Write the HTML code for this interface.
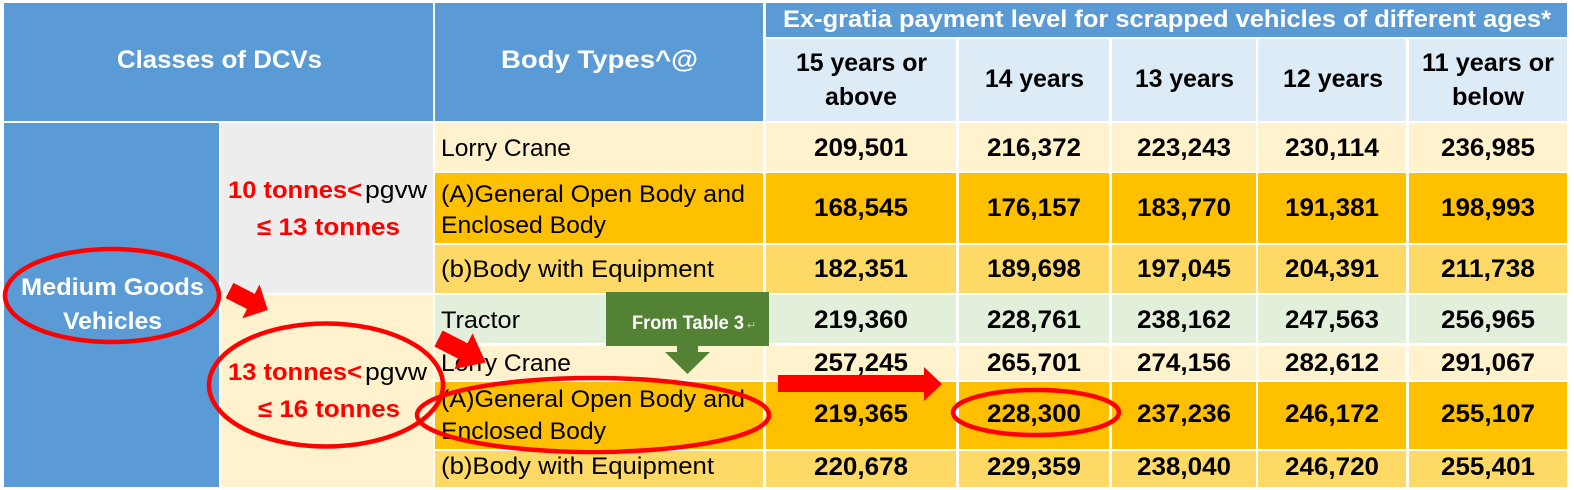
<!DOCTYPE html>
<html>
<head>
<meta charset="utf-8">
<style>
html,body{margin:0;padding:0;background:#fff;}
svg{display:block;}
text{font-family:"Liberation Sans",Arial,sans-serif;}
.h{fill:#fff;font-weight:bold;}
.sh{fill:#000;font-weight:bold;font-size:25px;}
.n{fill:#000;font-weight:bold;font-size:25px;}
.b{fill:#000;font-size:24px;}
.r{fill:#ff0000;font-weight:bold;font-size:24px;}
.k{fill:#000;font-size:24px;}
</style>
</head>
<body>
<svg width="1574" height="490" viewBox="0 0 1574 490" xmlns="http://www.w3.org/2000/svg">
<rect x="0" y="0" width="1574" height="490" fill="#fff"/>
<!-- headers -->
<rect x="4" y="3" width="429" height="118" fill="#5B9BD5"/>
<rect x="435" y="3" width="328" height="118" fill="#5B9BD5"/>
<rect x="766" y="3" width="801" height="34" fill="#5B9BD5"/>
<g fill="#DDEBF7">
<rect x="766" y="39" width="190" height="82"/>
<rect x="959" y="39" width="150" height="82"/>
<rect x="1112" y="39" width="144" height="82"/>
<rect x="1258" y="39" width="148" height="82"/>
<rect x="1409" y="39" width="158" height="82"/>
</g>
<!-- left columns -->
<rect x="4" y="123" width="215" height="364" fill="#5B9BD5"/>
<rect x="221" y="123" width="212" height="170" fill="#EDEDED"/>
<rect x="221" y="295" width="212" height="192" fill="#FFF2CC"/>
<!-- rows -->
<g fill="#FFF2CC">
<rect x="435" y="123" width="328" height="48"/><rect x="766" y="123" width="190" height="48"/><rect x="959" y="123" width="150" height="48"/><rect x="1112" y="123" width="144" height="48"/><rect x="1258" y="123" width="148" height="48"/><rect x="1409" y="123" width="158" height="48"/>
<rect x="435" y="346" width="328" height="34"/><rect x="766" y="346" width="190" height="34"/><rect x="959" y="346" width="150" height="34"/><rect x="1112" y="346" width="144" height="34"/><rect x="1258" y="346" width="148" height="34"/><rect x="1409" y="346" width="158" height="34"/>
</g>
<g fill="#FFC000">
<rect x="435" y="173" width="328" height="70"/><rect x="766" y="173" width="190" height="70"/><rect x="959" y="173" width="150" height="70"/><rect x="1112" y="173" width="144" height="70"/><rect x="1258" y="173" width="148" height="70"/><rect x="1409" y="173" width="158" height="70"/>
<rect x="435" y="382" width="328" height="67"/><rect x="766" y="382" width="190" height="67"/><rect x="959" y="382" width="150" height="67"/><rect x="1112" y="382" width="144" height="67"/><rect x="1258" y="382" width="148" height="67"/><rect x="1409" y="382" width="158" height="67"/>
</g>
<g fill="#FFD966">
<rect x="435" y="245" width="328" height="48"/><rect x="766" y="245" width="190" height="48"/><rect x="959" y="245" width="150" height="48"/><rect x="1112" y="245" width="144" height="48"/><rect x="1258" y="245" width="148" height="48"/><rect x="1409" y="245" width="158" height="48"/>
<rect x="435" y="451" width="328" height="36"/><rect x="766" y="451" width="190" height="36"/><rect x="959" y="451" width="150" height="36"/><rect x="1112" y="451" width="144" height="36"/><rect x="1258" y="451" width="148" height="36"/><rect x="1409" y="451" width="158" height="36"/>
</g>
<g fill="#E2EFDA">
<rect x="435" y="295" width="328" height="48"/><rect x="766" y="295" width="190" height="48"/><rect x="959" y="295" width="150" height="48"/><rect x="1112" y="295" width="144" height="48"/><rect x="1258" y="295" width="148" height="48"/><rect x="1409" y="295" width="158" height="48"/>
</g>

<!-- header text -->
<text class="h" x="117" y="68" font-size="25" textLength="205" lengthAdjust="spacingAndGlyphs">Classes of DCVs</text>
<text class="h" x="501" y="68" font-size="25" textLength="197" lengthAdjust="spacingAndGlyphs">Body Types^@</text>
<text class="h" x="783" y="27" font-size="24" textLength="768" lengthAdjust="spacingAndGlyphs">Ex-gratia payment level for scrapped vehicles of different ages*</text>

<text class="sh" x="796" y="71" textLength="131" lengthAdjust="spacingAndGlyphs">15 years or</text>
<text class="sh" x="825" y="105" textLength="72" lengthAdjust="spacingAndGlyphs">above</text>
<text class="sh" x="985" y="87" textLength="99" lengthAdjust="spacingAndGlyphs">14 years</text>
<text class="sh" x="1135" y="87" textLength="99" lengthAdjust="spacingAndGlyphs">13 years</text>
<text class="sh" x="1283" y="87" textLength="100" lengthAdjust="spacingAndGlyphs">12 years</text>
<text class="sh" x="1422" y="71" textLength="132" lengthAdjust="spacingAndGlyphs">11 years or</text>
<text class="sh" x="1452" y="105" textLength="72" lengthAdjust="spacingAndGlyphs">below</text>

<!-- left column text -->
<text class="h" x="21" y="295" font-size="24" textLength="183" lengthAdjust="spacingAndGlyphs">Medium Goods</text>
<text class="h" x="63" y="329" font-size="24" textLength="99" lengthAdjust="spacingAndGlyphs">Vehicles</text>

<text class="r" x="228" y="198" textLength="134" lengthAdjust="spacingAndGlyphs">10 tonnes&lt;</text>
<text class="k" x="365" y="198" textLength="62" lengthAdjust="spacingAndGlyphs">pgvw</text>
<text class="r" x="257" y="235" textLength="143" lengthAdjust="spacingAndGlyphs">≤ 13 tonnes</text>

<text class="r" x="228" y="380" textLength="134" lengthAdjust="spacingAndGlyphs">13 tonnes&lt;</text>
<text class="k" x="365" y="380" textLength="62" lengthAdjust="spacingAndGlyphs">pgvw</text>
<text class="r" x="258" y="417" textLength="142" lengthAdjust="spacingAndGlyphs">≤ 16 tonnes</text>

<!-- body types -->
<text class="b" x="441" y="156" textLength="130" lengthAdjust="spacingAndGlyphs">Lorry Crane</text>
<text class="b" x="441" y="202" textLength="304" lengthAdjust="spacingAndGlyphs">(A)General Open Body and</text>
<text class="b" x="441" y="233" textLength="165" lengthAdjust="spacingAndGlyphs">Enclosed Body</text>
<text class="b" x="441" y="277" textLength="273" lengthAdjust="spacingAndGlyphs">(b)Body with Equipment</text>
<text class="b" x="441" y="328" textLength="79" lengthAdjust="spacingAndGlyphs">Tractor</text>
<text class="b" x="441" y="371" textLength="130" lengthAdjust="spacingAndGlyphs">Lorry Crane</text>
<text class="b" x="441" y="407" textLength="304" lengthAdjust="spacingAndGlyphs">(A)General Open Body and</text>
<text class="b" x="441" y="439" textLength="165" lengthAdjust="spacingAndGlyphs">Enclosed Body</text>
<text class="b" x="441" y="474" textLength="273" lengthAdjust="spacingAndGlyphs">(b)Body with Equipment</text>

<!-- numbers -->
<g>
<text class="n" x="814" y="156" textLength="94" lengthAdjust="spacingAndGlyphs">209,501</text>
<text class="n" x="987" y="156" textLength="94" lengthAdjust="spacingAndGlyphs">216,372</text>
<text class="n" x="1137" y="156" textLength="94" lengthAdjust="spacingAndGlyphs">223,243</text>
<text class="n" x="1285" y="156" textLength="94" lengthAdjust="spacingAndGlyphs">230,114</text>
<text class="n" x="1441" y="156" textLength="94" lengthAdjust="spacingAndGlyphs">236,985</text>

<text class="n" x="814" y="216" textLength="94" lengthAdjust="spacingAndGlyphs">168,545</text>
<text class="n" x="987" y="216" textLength="94" lengthAdjust="spacingAndGlyphs">176,157</text>
<text class="n" x="1137" y="216" textLength="94" lengthAdjust="spacingAndGlyphs">183,770</text>
<text class="n" x="1285" y="216" textLength="94" lengthAdjust="spacingAndGlyphs">191,381</text>
<text class="n" x="1441" y="216" textLength="94" lengthAdjust="spacingAndGlyphs">198,993</text>

<text class="n" x="814" y="277" textLength="94" lengthAdjust="spacingAndGlyphs">182,351</text>
<text class="n" x="987" y="277" textLength="94" lengthAdjust="spacingAndGlyphs">189,698</text>
<text class="n" x="1137" y="277" textLength="94" lengthAdjust="spacingAndGlyphs">197,045</text>
<text class="n" x="1285" y="277" textLength="94" lengthAdjust="spacingAndGlyphs">204,391</text>
<text class="n" x="1441" y="277" textLength="94" lengthAdjust="spacingAndGlyphs">211,738</text>

<text class="n" x="814" y="328" textLength="94" lengthAdjust="spacingAndGlyphs">219,360</text>
<text class="n" x="987" y="328" textLength="94" lengthAdjust="spacingAndGlyphs">228,761</text>
<text class="n" x="1137" y="328" textLength="94" lengthAdjust="spacingAndGlyphs">238,162</text>
<text class="n" x="1285" y="328" textLength="94" lengthAdjust="spacingAndGlyphs">247,563</text>
<text class="n" x="1441" y="328" textLength="94" lengthAdjust="spacingAndGlyphs">256,965</text>

<text class="n" x="814" y="371" textLength="94" lengthAdjust="spacingAndGlyphs">257,245</text>
<text class="n" x="987" y="371" textLength="94" lengthAdjust="spacingAndGlyphs">265,701</text>
<text class="n" x="1137" y="371" textLength="94" lengthAdjust="spacingAndGlyphs">274,156</text>
<text class="n" x="1285" y="371" textLength="94" lengthAdjust="spacingAndGlyphs">282,612</text>
<text class="n" x="1441" y="371" textLength="94" lengthAdjust="spacingAndGlyphs">291,067</text>

<text class="n" x="814" y="422" textLength="94" lengthAdjust="spacingAndGlyphs">219,365</text>
<text class="n" x="987" y="422" textLength="94" lengthAdjust="spacingAndGlyphs">228,300</text>
<text class="n" x="1137" y="422" textLength="94" lengthAdjust="spacingAndGlyphs">237,236</text>
<text class="n" x="1285" y="422" textLength="94" lengthAdjust="spacingAndGlyphs">246,172</text>
<text class="n" x="1441" y="422" textLength="94" lengthAdjust="spacingAndGlyphs">255,107</text>

<text class="n" x="814" y="475" textLength="94" lengthAdjust="spacingAndGlyphs">220,678</text>
<text class="n" x="987" y="475" textLength="94" lengthAdjust="spacingAndGlyphs">229,359</text>
<text class="n" x="1137" y="475" textLength="94" lengthAdjust="spacingAndGlyphs">238,040</text>
<text class="n" x="1285" y="475" textLength="94" lengthAdjust="spacingAndGlyphs">246,720</text>
<text class="n" x="1441" y="475" textLength="94" lengthAdjust="spacingAndGlyphs">255,401</text>
</g>

<!-- green callout -->
<rect x="606" y="292" width="163" height="54" fill="#548235"/>
<rect x="677" y="345" width="21" height="8" fill="#548235"/>
<polygon points="665,352 710,352 687.5,374" fill="#548235"/>
<text class="h" x="632" y="329" font-size="19" textLength="112" lengthAdjust="spacingAndGlyphs">From Table 3</text>
<text x="747" y="329" font-size="11" fill="#b8c8a8">↵</text>

<!-- red annotations -->
<g fill="none" stroke="#ff0000" stroke-width="4.5">
<ellipse cx="112" cy="295.5" rx="107" ry="46.5"/>
<ellipse cx="326" cy="385" rx="117" ry="61.5"/>
<ellipse cx="593" cy="415" rx="176" ry="37"/>
<ellipse cx="1036" cy="412.5" rx="83" ry="22.5"/>
</g>
<g fill="#ff0000">
<g transform="translate(229.5,290.5) rotate(27)">
<polygon points="0,-8.5 24,-8.5 24,-19 43,0 24,19 24,8.5 0,8.5"/>
</g>
<g transform="translate(438.5,338.5) rotate(27)">
<polygon points="0,-9 28,-9 28,-20 53,0 28,20 28,9 0,9"/>
</g>
<polygon points="778,375 924,375 924,367 942,384 924,401 924,392 778,392"/>
</g>
</svg>
</body>
</html>
